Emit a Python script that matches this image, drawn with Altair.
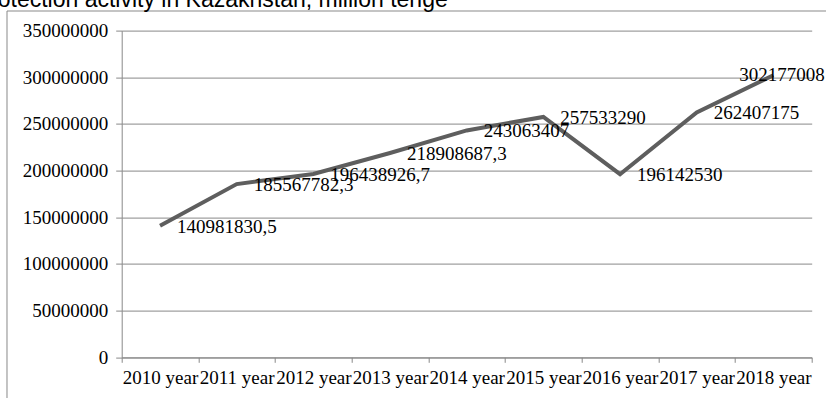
import altair as alt
import pandas as pd

years = ["2010 year", "2011 year", "2012 year", "2013 year", "2014 year",
         "2015 year", "2016 year", "2017 year", "2018 year"]
values = [140981830.5, 185567782.3, 196438926.7, 218908687.3, 243063407,
          257533290, 196142530, 262407175, 302177008]
value_labels = ["140981830,5", "185567782,3", "196438926,7", "218908687,3",
                "243063407", "257533290", "196142530", "262407175", "302177008"]
y_ticks = [0, 50000000, 100000000, 150000000, 200000000, 250000000,
           300000000, 350000000]
title_text = "otection activity in Kazakhstan, million tenge"

df = pd.DataFrame({
    "year": years,
    "value": values,
    "label": value_labels,
    "last": [False] * 8 + [True],
})
one = pd.DataFrame({"a": [0]})

GRID = "#898989"
LINE = "#5e5e5e"
SERIF = "Liberation Serif"
FS = 19

x_enc = alt.X(
    "year:N", sort=years, bandPosition=0.5,
    scale=alt.Scale(type="band", paddingInner=0, paddingOuter=0),
    axis=alt.Axis(title=None, labelAngle=0, tickBand="extent", ticks=True,
                  tickSize=5, tickColor=GRID, domainColor=GRID,
                  labelFont=SERIF, labelFontSize=FS, labelColor="black",
                  labelPadding=6, grid=False),
)
y_enc = alt.Y(
    "value:Q",
    scale=alt.Scale(domain=[0, 350000000], nice=False, zero=True),
    axis=alt.Axis(title=None, values=y_ticks, format="d", grid=True,
                  gridColor=GRID, gridWidth=1, tickSize=6, tickColor=GRID,
                  domainColor=GRID, labelFont=SERIF, labelFontSize=FS,
                  labelColor="black", labelPadding=8),
)

base = alt.Chart(df)

line = base.mark_line(color=LINE, strokeWidth=4).encode(x=x_enc, y=y_enc)

labels = base.transform_filter("!datum.last").mark_text(
    align="left", baseline="middle", dx=17, dy=1,
    font=SERIF, fontSize=FS, color="black",
).encode(x=x_enc, y=y_enc, text="label:N")

last_label = base.transform_filter("datum.last").mark_text(
    align="left", baseline="middle", dx=-34, dy=0,
    font=SERIF, fontSize=FS, color="black",
).encode(x=x_enc, y=y_enc, text="label:N")

frame = alt.Chart(one).mark_rect(filled=False, stroke=GRID, strokeWidth=1).encode(
    x=alt.value(-114.7), x2=alt.value(730),
    y=alt.value(-19.6), y2=alt.value(390),
)

title = alt.Chart(one).mark_text(
    align="left", baseline="alphabetic", font="Liberation Sans",
    fontSize=23, color="black",
).encode(x=alt.value(-124), y=alt.value(-23.8), text=alt.value(title_text))

chart = alt.layer(frame, title, line, labels, last_label).properties(
    width=690, height=326.7,
    padding={"left": 121.7, "top": 30.6, "right": 14.3, "bottom": 40.7},
    autosize=alt.AutoSizeParams(type="none"),
    background="white",
).configure_view(stroke=None)

chart.save("out.html", embed_options={"renderer": "svg", "actions": False})
